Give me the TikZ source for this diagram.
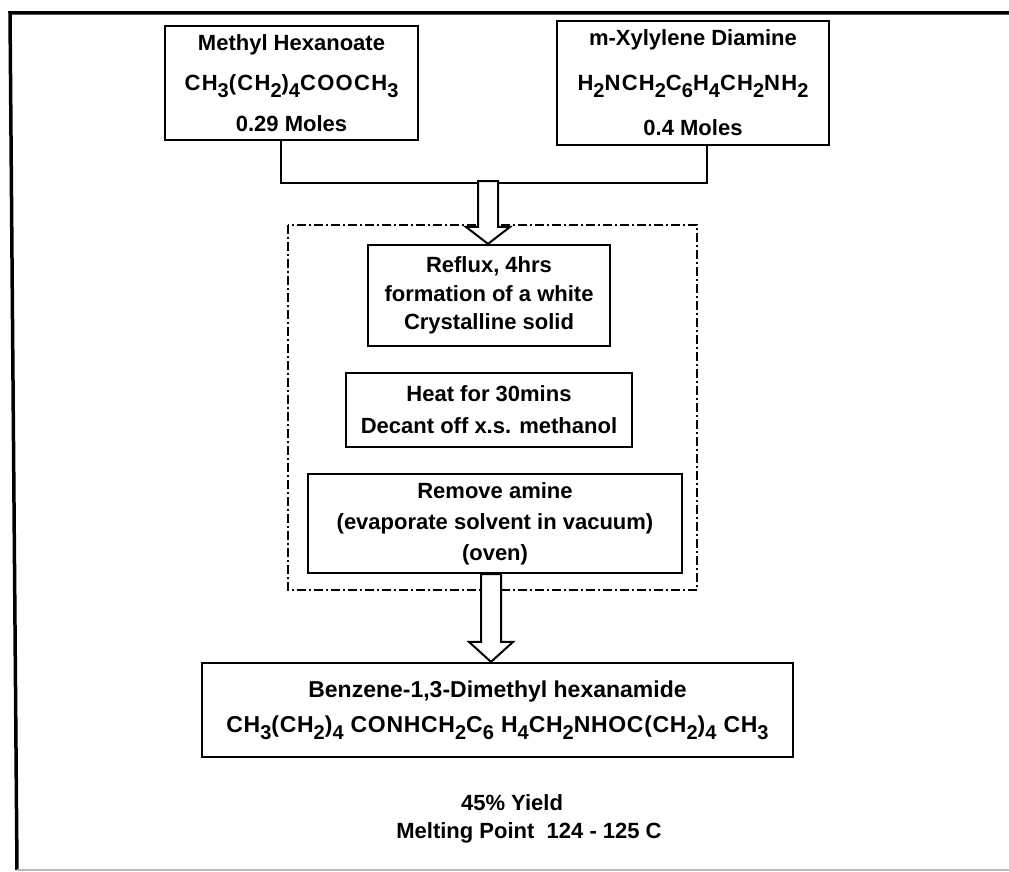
\documentclass[tikz,border=0pt]{standalone}
\usepackage{fontspec}
\setmainfont{Liberation Sans}
\usetikzlibrary{calc}

% chemical subscript: large and set well below the baseline
\newcommand\sbs[1]{\raisebox{-7pt}{\fontsize{20}{20}\selectfont #1}}
% formulas are set slightly tracked
\newcommand\formula[2][6]{{\addfontfeatures{LetterSpace=#1}#2}}

\tikzset{
  procbox/.style={draw, line width=2.2pt, align=center, inner sep=0pt,
                  font=\fontsize{22}{#1}\selectfont\bfseries},
  procbox/.default=40,
  link/.style={line width=2.2pt},
  hollow/.style={draw, fill=white, line width=2pt, line join=miter},
  groupbox/.style={draw, line width=2pt, dash pattern=on 9pt off 3pt on 2pt off 3pt},
  frame/.style={line width=3.5pt},
  plain/.style={font=\fontsize{22}{30}\selectfont\bfseries, inner sep=0pt}
}

\begin{document}
\begin{tikzpicture}[x=1pt, y=-1pt]
  \useasboundingbox (0,0) rectangle (1009,872);

  % outer frame
  \draw[frame] (1009,13) -- (10,13) -- (17,870);
  \draw[line width=1.5pt, gray!55] (17,870) -- (1009,870);

  % starting materials
  \node[procbox=40.5, minimum width=253pt, minimum height=114pt] (ester) at (291.5,83)
    {Methyl Hexanoate\\\formula{CH\sbs{3}(CH\sbs{2})\sbs{4}COOCH\sbs{3}}\\0.29 Moles};
  \node[procbox=45, minimum width=272pt, minimum height=124pt] (amine) at (693,83)
    {m-Xylylene Diamine\\\formula{H\sbs{2}NCH\sbs{2}C\sbs{6}H\sbs{4}CH\sbs{2}NH\sbs{2}}\\0.4 Moles};

  % reaction steps, grouped in a dash-dotted frame
  \draw[groupbox] (288,225) rectangle (697,590);
  \node[procbox=28.5, minimum width=242pt, minimum height=101pt] (reflux) at (489,295.5)
    {Reflux, 4hrs\\formation of a white\\Crystalline solid};
  \node[procbox=32, minimum width=286pt, minimum height=74pt] (heat) at (489,410)
    {Heat for 30mins\\Decant off x.s. methanol};
  \node[procbox=31, minimum width=374pt, minimum height=99pt] (remove) at (495,523.5)
    {Remove amine\\(evaporate solvent in vacuum)\\(oven)};

  % product
  \node[procbox=38, minimum width=591pt, minimum height=94pt, font=\fontsize{23}{38}\selectfont\bfseries] (product) at (497.5,710)
    {Benzene-1,3-Dimethyl hexanamide\\[-3pt]\formula[3]{CH\sbs{3}(CH\sbs{2})\sbs{4} CONHCH\sbs{2}C\sbs{6} H\sbs{4}CH\sbs{2}NHOC(CH\sbs{2})\sbs{4} CH\sbs{3}}};

  \node[plain] (yield) at (512,803) {45\% Yield};
  \node[plain] (mp) at (529,833) {Melting Point\ \ 124 - 125 C};

  % joining line from both reagents
  \coordinate (j) at (488,183);
  \draw[link] ($(ester.south)+(-10.5,0)$) |- (j) -| ($(amine.south)+(14,0)$);

  % hollow arrow into the reaction steps
  \coordinate (r) at ($(reflux.north)+(-1,0)$);
  \draw[hollow] ($(j)+(-10,-2)$) -- ($(j)+(10,-2)$) -- ($(r)+(10,-17)$) -- ($(r)+(22,-17)$)
    -- (r) -- ($(r)+(-22,-17)$) -- ($(r)+(-10,-17)$) -- cycle;

  % hollow arrow to the product
  \coordinate (p) at (product.north -| 491,0);
  \coordinate (s) at (remove.south -| 491,0);
  \draw[hollow] ($(s)+(-10,0)$) -- ($(s)+(10,0)$) -- ($(p)+(10,-20)$) -- ($(p)+(22,-20)$)
    -- (p) -- ($(p)+(-22,-20)$) -- ($(p)+(-10,-20)$) -- cycle;
\end{tikzpicture}
\end{document}
